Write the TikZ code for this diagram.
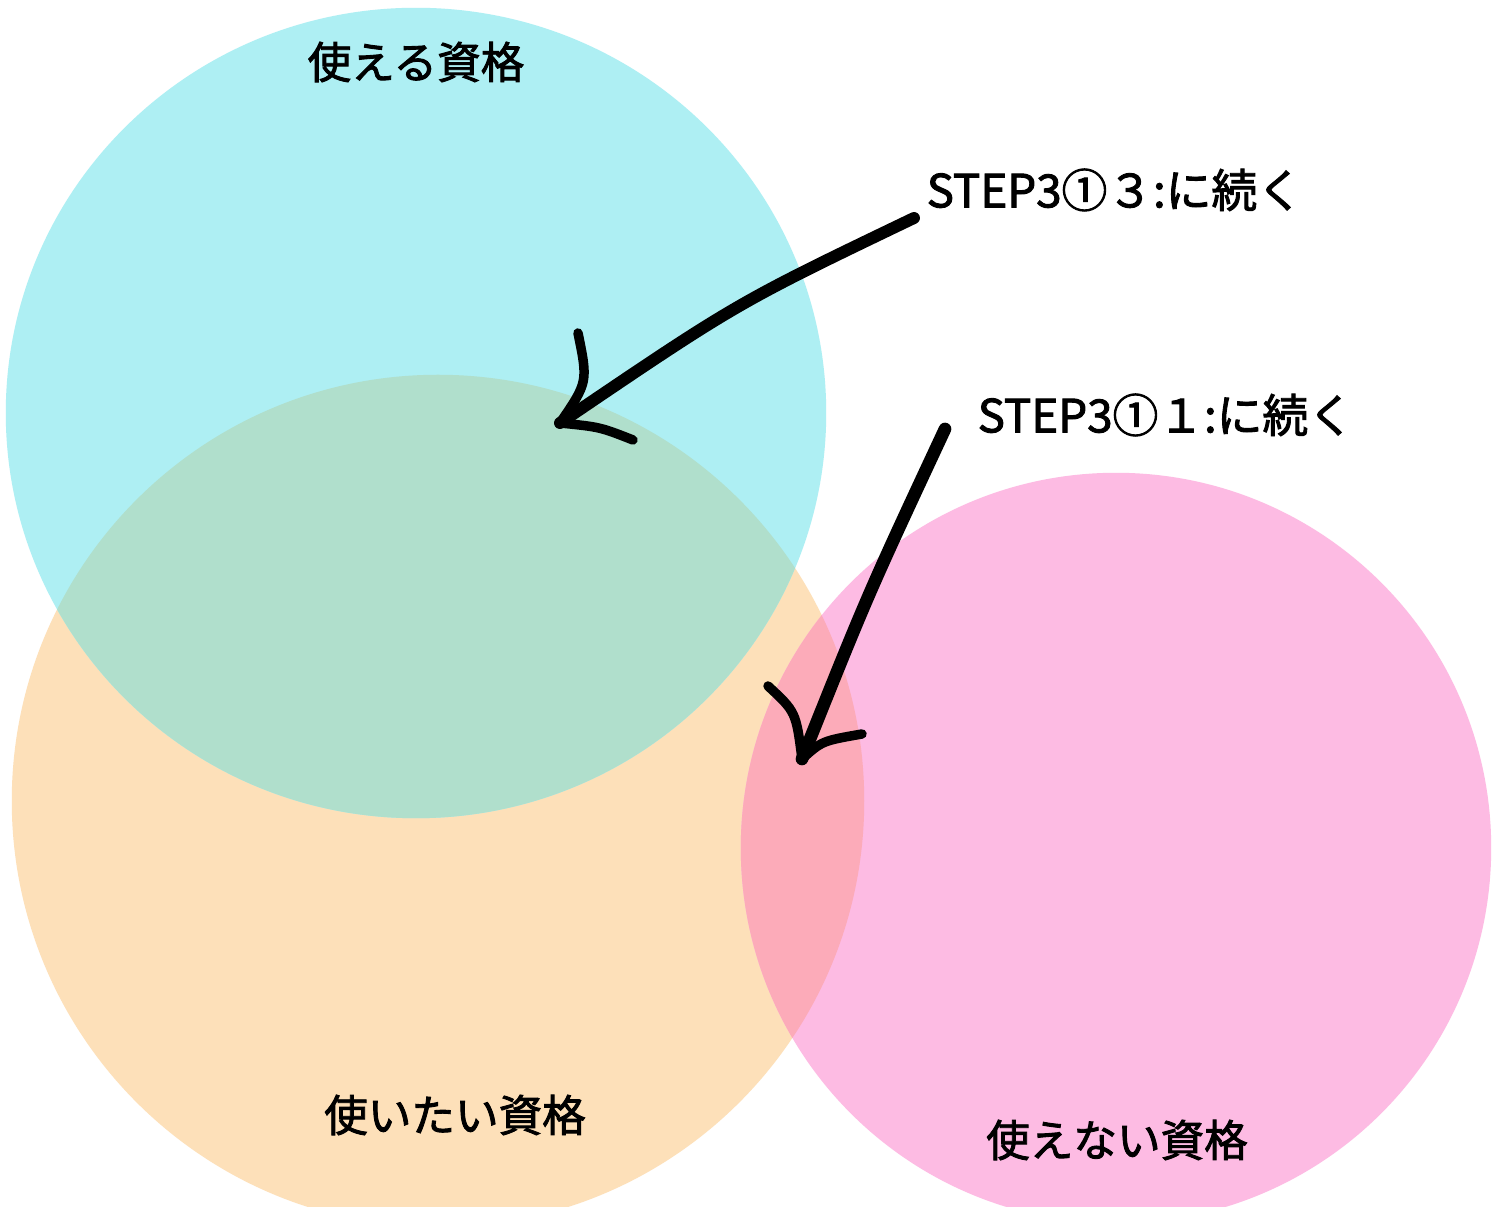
\documentclass[tikz,border=0pt]{standalone}
\usepackage{fontspec}
\newfontfamily\jpfont[FakeBold=2]{Noto Sans CJK JP}
\usetikzlibrary{positioning}
\definecolor{canuse}{HTML}{AEEFF3}
\definecolor{wantuse}{HTML}{FDE0B9}
\definecolor{cannotuse}{HTML}{FDBBE3}
\definecolor{canwant}{HTML}{B0DFCC}
\definecolor{wantnot}{HTML}{FCABB9}
\tikzstyle{setname} = [inner sep=0pt, text=black, font=\jpfont\fontsize{12.4}{15}\selectfont]
\tikzstyle{note}    = [inner sep=0pt, anchor=west, text=black, font=\jpfont\fontsize{13}{15}\selectfont]
\tikzstyle{brush}   = [line width=2.7pt, line cap=round, draw=black]

\begin{document}
\begin{tikzpicture}[x=0.01cm, y=-0.01cm]
            \clip (0,0) rectangle (1499,1207);
            \fill[white] (0,0) rectangle (1499,1207);

            % circle centres
            \coordinate (can)    at (416,413);
            \coordinate (want)   at (438,801);
            \coordinate (cannot) at (1116,848);

            \fill[wantuse]   (want)   ellipse [x radius=4.26cm, y radius=4.26cm];
            \fill[cannotuse] (cannot) ellipse [x radius=3.75cm, y radius=3.75cm];
            \fill[canuse]    (can)    ellipse [x radius=4.10cm, y radius=4.05cm];
            \begin{scope}
                \clip (want) ellipse [x radius=4.26cm, y radius=4.26cm];
                \fill[canwant] (can)    ellipse [x radius=4.10cm, y radius=4.05cm];
                \fill[wantnot] (cannot) ellipse [x radius=3.75cm, y radius=3.75cm];
            \end{scope}

            \node[setname] (canlbl)    at (416,62)   {使える資格};
            \node[setname] (wantlbl)   at (455,1115) {使いたい資格};
            \node[setname] (cannotlbl) at (1117,1140) {使えない資格};

            \node[note] (step3) at (926,190) {STEP3①３:に続く};
            \node[note] (step1) at (977,415) {STEP3①１:に続く};

            % brush arrows
            \coordinate (fromA) at (914,218);
            \coordinate (tipA)  at (560,423);
            \coordinate (fromB) at (945,429);
            \coordinate (tipB)  at (802,759);

            \draw[brush, line width=3.4pt] (fromA) .. controls (737,303) .. (tipA);
            \draw[brush] (578,333) .. controls (588,382) .. (tipA);
            \draw[brush] (tipA) .. controls (600,427) .. (633,440);

            \draw[brush, line width=3.6pt] (fromB) .. controls (868,594) .. (tipB);
            \draw[brush] (768,686) .. controls (796,712) .. (tipB);
            \draw[brush] (tipB) .. controls (822,741) .. (862,734);
        \end{tikzpicture}
\end{document}
